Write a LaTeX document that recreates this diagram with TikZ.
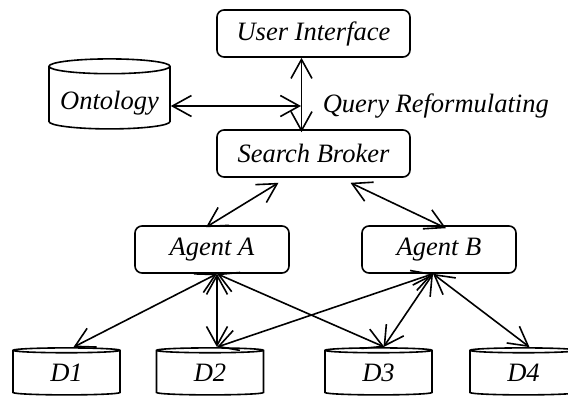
\documentclass[tikz,border=0pt]{standalone}
\usepackage{fontspec}
\setmainfont{Liberation Serif}
\usetikzlibrary{shapes.geometric,arrows.meta}

\begin{document}
\begin{tikzpicture}[x=1pt,y=-1pt,line width=1.6pt,
	font=\fontsize{26.5}{30}\selectfont\itshape,
	>={Straight Barb[length=19pt,width=21pt]},
	box/.style={shape=rectangle,draw=black,rounded corners=7pt,minimum width=154pt,minimum height=47pt,inner sep=0pt},
	db/.style={shape=cylinder,shape border rotate=90,aspect=0.15,draw=black,minimum width=107pt,minimum height=47pt,inner sep=0pt}]
	\useasboundingbox (0,0) rectangle (568,397);

	\node[box,minimum width=193pt] (ui) at (313.5,33.5)  {User Interface};
	\node[box,minimum width=193pt] (sb) at (313.5,153.5) {Search Broker};
	\node[box] (agA) at (212,249.5) {Agent A};
	\node[box] (agB) at (439,249.5) {Agent B};
	\node[db,minimum width=121pt,minimum height=70pt,text height=22pt,text depth=0pt] (onto) at (109.5,98) {Ontology};
	\node[db] (d1) at (66.5,373)  {D1};
	\node[db] (d2) at (210,373)   {D2};
	\node[db] (d3) at (378.5,373) {D3};
	\node[db] (d4) at (523.5,373) {D4};
	\coordinate (join) at (301,106);
	\node[anchor=west,inner sep=0pt] (query) at (322,106) {Query Reformulating};

	\draw[<->] ([xshift=-12pt]ui.south) -- ([xshift=-12pt,yshift=-3pt]sb.north);
	\draw[<->] (onto.east |- join) -- (join);
	\draw[<->] ([xshift=-35pt,yshift=-5pt]sb.south) -- ([xshift=-6pt,yshift=-2pt]agA.north);
	\draw[<->] ([xshift=37pt,yshift=-5pt]sb.south) -- ([xshift=7pt,yshift=-3pt]agB.north);
	\draw[<->] ([xshift=5pt]agA.south) -- ([xshift=7pt]d1.north);
	\draw[<->] ([xshift=5pt]agA.south) -- ([xshift=7pt]d2.north);
	\draw[<->] ([xshift=5pt]agA.south) -- ([xshift=6pt]d3.north);
	\draw[<->] ([xshift=-6pt]agB.south) -- ([xshift=7pt]d2.north);
	\draw[<->] ([xshift=-6pt]agB.south) -- ([xshift=5pt]d3.north);
	\draw[<->] ([xshift=-6pt]agB.south) -- ([xshift=6pt]d4.north);
\end{tikzpicture}
\end{document}
